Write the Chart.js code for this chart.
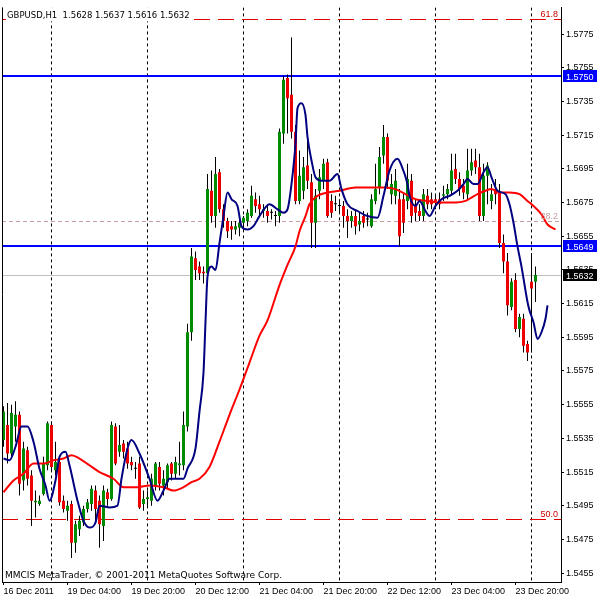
<!DOCTYPE html>
<html>
<head>
<meta charset="utf-8">
<title>GBPUSD,H1</title>
<script src="https://cdn.jsdelivr.net/npm/chart.js@4.4.1/dist/chart.umd.min.js"></script>
<style>
  html, body { margin: 0; padding: 0; background: #fff; }
  canvas { display: block; }
</style>
</head>
<body>
<canvas id="chart" width="600" height="600"></canvas>
<script>
// H1 candles, oldest first (bar 0 = 16 Dec 2011 12:00)
const opens = [
  1.5534,1.5543,1.5526,1.5542,1.5549,1.5510,1.5528,1.5513,1.5497,1.5496,
  1.5502,1.5519,1.5543,1.5516,1.5521,1.5498,1.5492,1.5496,1.5473,1.5481,
  1.5485,1.5493,1.5496,1.5504,1.5498,1.5483,1.5503,1.5499,1.5542,1.5527,
  1.5532,1.5529,1.5521,1.5517,1.5520,1.5496,1.5499,1.5498,1.5507,1.5518,
  1.5507,1.5509,1.5520,1.5514,1.5519,1.5519,1.5542,1.5598,1.5642,1.5637,
  1.5634,1.5633,1.5682,1.5667,1.5693,1.5671,1.5664,1.5661,1.5659,1.5660,
  1.5663,1.5664,1.5667,1.5677,1.5674,1.5670,1.5670,1.5669,1.5667,1.5667,
  1.5716,1.5749,1.5739,1.5717,1.5676,1.5682,1.5697,1.5687,1.5663,1.5682,
  1.5688,1.5699,1.5676,1.5674,1.5673,1.5673,1.5667,1.5664,1.5667,1.5662,
  1.5667,1.5665,1.5661,1.5676,1.5684,1.5703,1.5714,1.5680,1.5679,1.5677,
  1.5677,1.5676,1.5688,1.5673,1.5670,1.5667,1.5679,1.5677,1.5677,1.5677,
  1.5679,1.5680,1.5682,1.5695,1.5689,1.5685,1.5680,1.5694,1.5700,1.5696,
  1.5667,1.5691,1.5676,1.5683,1.5681,1.5651,1.5640,1.5613,1.5629,1.5600,
  1.5606,1.5591,1.5628,1.5628
];
const highs = [
  1.5554,1.5556,1.5555,1.5557,1.5551,1.5533,1.5530,1.5516,1.5504,1.5501,
  1.5524,1.5545,1.5545,1.5533,1.5524,1.5501,1.5498,1.5498,1.5486,1.5489,
  1.5495,1.5499,1.5507,1.5507,1.5501,1.5507,1.5505,1.5545,1.5544,1.5543,
  1.5534,1.5533,1.5524,1.5521,1.5524,1.5504,1.5504,1.5514,1.5521,1.5521,
  1.5516,1.5520,1.5521,1.5524,1.5533,1.5551,1.5603,1.5648,1.5646,1.5640,
  1.5637,1.5692,1.5694,1.5702,1.5695,1.5674,1.5666,1.5664,1.5664,1.5666,
  1.5667,1.5671,1.5685,1.5681,1.5679,1.5674,1.5674,1.5671,1.5670,1.5719,
  1.5750,1.5751,1.5773,1.5721,1.5706,1.5702,1.5714,1.5692,1.5683,1.5695,
  1.5701,1.5701,1.5680,1.5679,1.5677,1.5676,1.5671,1.5670,1.5670,1.5669,
  1.5670,1.5669,1.5680,1.5698,1.5708,1.5721,1.5716,1.5692,1.5695,1.5683,
  1.5681,1.5698,1.5692,1.5677,1.5674,1.5683,1.5683,1.5681,1.5680,1.5681,
  1.5685,1.5686,1.5704,1.5704,1.5693,1.5689,1.5707,1.5707,1.5707,1.5704,
  1.5698,1.5699,1.5686,1.5689,1.5686,1.5656,1.5645,1.5630,1.5633,1.5609,
  1.5609,1.5593,1.5645,1.5637
];
const lows = [
  1.5530,1.5520,1.5524,1.5533,1.5501,1.5504,1.5507,1.5483,1.5488,1.5495,
  1.5501,1.5516,1.5516,1.5513,1.5495,1.5491,1.5486,1.5464,1.5467,1.5477,
  1.5483,1.5491,1.5492,1.5486,1.5470,1.5474,1.5495,1.5498,1.5519,1.5524,
  1.5523,1.5517,1.5516,1.5511,1.5493,1.5492,1.5495,1.5495,1.5504,1.5504,
  1.5501,1.5505,1.5510,1.5511,1.5513,1.5516,1.5539,1.5593,1.5629,1.5629,
  1.5627,1.5630,1.5663,1.5660,1.5669,1.5660,1.5654,1.5653,1.5656,1.5655,
  1.5659,1.5661,1.5666,1.5669,1.5667,1.5666,1.5663,1.5665,1.5661,1.5663,
  1.5710,1.5716,1.5713,1.5674,1.5674,1.5677,1.5683,1.5648,1.5648,1.5677,
  1.5683,1.5666,1.5666,1.5670,1.5669,1.5660,1.5654,1.5660,1.5656,1.5658,
  1.5660,1.5661,1.5660,1.5674,1.5680,1.5698,1.5683,1.5674,1.5674,1.5649,
  1.5657,1.5671,1.5663,1.5664,1.5664,1.5664,1.5671,1.5671,1.5671,1.5671,
  1.5676,1.5677,1.5679,1.5686,1.5679,1.5677,1.5677,1.5691,1.5692,1.5664,
  1.5664,1.5674,1.5671,1.5674,1.5648,1.5633,1.5608,1.5611,1.5598,1.5595,
  1.5586,1.5581,1.5586,1.5616
];
const closes = [
  1.5551,1.5526,1.5550,1.5549,1.5508,1.5529,1.5511,1.5498,1.5498,1.5498,
  1.5520,1.5544,1.5518,1.5521,1.5497,1.5493,1.5495,1.5473,1.5484,1.5486,
  1.5493,1.5497,1.5505,1.5493,1.5484,1.5504,1.5499,1.5543,1.5520,1.5531,
  1.5527,1.5520,1.5519,1.5517,1.5494,1.5499,1.5500,1.5511,1.5520,1.5508,
  1.5511,1.5519,1.5514,1.5521,1.5520,1.5543,1.5598,1.5643,1.5635,1.5633,
  1.5633,1.5683,1.5667,1.5692,1.5671,1.5664,1.5658,1.5659,1.5661,1.5663,
  1.5666,1.5669,1.5679,1.5673,1.5671,1.5671,1.5667,1.5669,1.5667,1.5717,
  1.5748,1.5737,1.5717,1.5676,1.5691,1.5696,1.5688,1.5663,1.5679,1.5690,
  1.5698,1.5667,1.5669,1.5674,1.5673,1.5667,1.5664,1.5667,1.5661,1.5664,
  1.5663,1.5665,1.5677,1.5683,1.5702,1.5714,1.5688,1.5686,1.5688,1.5655,
  1.5663,1.5689,1.5667,1.5669,1.5667,1.5680,1.5674,1.5674,1.5676,1.5674,
  1.5680,1.5683,1.5694,1.5689,1.5683,1.5681,1.5694,1.5699,1.5696,1.5667,
  1.5691,1.5697,1.5680,1.5680,1.5651,1.5640,1.5614,1.5628,1.5600,1.5607,
  1.5590,1.5586,1.5624,1.5632
];

// moving averages as [bar, price]
const fastMa = [
  [0,1.5523],[1.5,1.5522],[3,1.5530],[4.5,1.5542],[6,1.5542],[7.5,1.5533],[9,1.5517],
  [10.5,1.5507],[11.5,1.5498],[13,1.5510],[14,1.5524],[15.5,1.5527],[16.5,1.5519],
  [18.5,1.5498],[20,1.5486],[21.5,1.5482],[23,1.5485],[24,1.5495],[26.5,1.5494],
  [28.5,1.5495],[29.5,1.5511],[31,1.5529],[32,1.5534],[34,1.5526],[36.5,1.5511],
  [38.5,1.5498],[40,1.5504],[41.5,1.5511],[45,1.5511],[46,1.5517],[48,1.5529],
  [49,1.5551],[50,1.5574],[50.5,1.5604],[51,1.5631],[52,1.5637],[53,1.5635],
  [54,1.5651],[55,1.5667],[56,1.5681],[57,1.5677],[58.5,1.5673],[59.5,1.5661],
  [61,1.5659],[62.5,1.5661],[64,1.5667],[66.5,1.5674],[68.5,1.5671],[70,1.5669],
  [71,1.5671],[72,1.5686],[73,1.5710],[73.5,1.5731],[74.5,1.5734],[75.5,1.5727],
  [76,1.5714],[77,1.5700],[78,1.5690],[79.5,1.5688],[81.5,1.5688],[83.5,1.5692],
  [84.5,1.5683],[86,1.5674],[88.5,1.5670],[91,1.5667],[93.5,1.5666],[95,1.5679],
  [96.5,1.5694],[98.5,1.5701],[99.5,1.5697],[101,1.5686],[101.5,1.5679],[103,1.5673],
  [104,1.5676],[105.5,1.5670],[106.5,1.5667],[108,1.5673],[109.5,1.5677],[111.5,1.5679],
  [113.5,1.5682],[115,1.5686],[116,1.5689],[117.5,1.5686],[118.5,1.5686],[120,1.5693],
  [121,1.5696],[122,1.5690],[123.5,1.5682],[125.5,1.5680],[126.5,1.5674],[127.5,1.5663],
  [128.5,1.5649],[129.5,1.5637],[131,1.5616],[131.5,1.5611],[132.5,1.5604],
  [133.5,1.5594],[134.5,1.5598],[135.5,1.5606],[136,1.5614]
];
const slowMa = [
  [0,1.5503],[2.5,1.5510],[5,1.5514],[7.5,1.5520],[10,1.5520],[12.5,1.5522],[15,1.5523],
  [17,1.5525],[19,1.5523],[21.5,1.5519],[24,1.5515],[27.5,1.5511],[30,1.5506],
  [33.5,1.5506],[36.5,1.5507],[40,1.5506],[42.5,1.5504],[45,1.5506],[47,1.5509],
  [49,1.5511],[51.5,1.5518],[54,1.5533],[56.5,1.5549],[59,1.5564],[61.5,1.5580],
  [64,1.5596],[66,1.5605],[69,1.5626],[71,1.5638],[73,1.5649],[74,1.5658],
  [75.5,1.5667],[76.5,1.5674],[78.5,1.5679],[81,1.5681],[84,1.5682],[88,1.5684],
  [91.5,1.5684],[95.5,1.5684],[98,1.5683],[100.5,1.5680],[103,1.5677],[106,1.5676],
  [109,1.5675],[113,1.5675],[115.5,1.5676],[117,1.5678],[118.5,1.5680],[120.5,1.5682],
  [122,1.5683],[124,1.5681],[126.5,1.5681],[129,1.5680],[131,1.5676],[132.5,1.5673],
  [134.5,1.5668],[136,1.5662],[138,1.5659]
];

const yTicks = [1.5455,1.5475,1.5495,1.5515,1.5535,1.5555,1.5575,1.5595,1.5615,
                1.5635,1.5655,1.5675,1.5695,1.5715,1.5735,1.5755,1.5775];
const xLabelBars = [0,16,32,48,64,80,96,112,128];
const xLabels = ['16 Dec 2011','19 Dec 04:00','19 Dec 20:00','20 Dec 12:00','21 Dec 04:00',
                 '21 Dec 20:00','22 Dec 12:00','23 Dec 04:00','23 Dec 20:00'];
const dayBars = [12,36,60,84,108,132];

const blueLevels = [1.5750, 1.5649];
const bidLevel = 1.5632;
const fibLevels = [1.5784, 1.5664, 1.5487];
const fibNames = ['61.8', '38.2', '50.0'];

const symbol = 'GBPUSD,H1';
const footer = 'MMCIS MetaTrader, \u00a9 2001-2011 MetaQuotes Software Corp.';

const FONT = '9px "Liberation Sans", Arial, sans-serif';
const bars = opens.map((_, i) => i);

function hline(ctx, a, py) {
  ctx.beginPath();
  ctx.moveTo(a.left, py);
  ctx.lineTo(a.right, py);
  ctx.stroke();
}

// grid separators, levels, labels and price tags
const chartDecor = {
  id: 'chartDecor',
  beforeDatasetsDraw(chart) {
    const { ctx, chartArea: a, scales: { x, y } } = chart;
    ctx.save();
    ctx.beginPath();
    ctx.rect(a.left, a.top, a.right - a.left, a.bottom - a.top);
    ctx.clip();
    ctx.lineWidth = 1;

    // day separators
    ctx.strokeStyle = '#000';
    ctx.setLineDash([3, 3]);
    dayBars.forEach(b => {
      const px = Math.floor(x.getPixelForValue(b)) + 0.5;
      ctx.beginPath();
      ctx.moveTo(px, a.top);
      ctx.lineTo(px, a.bottom);
      ctx.stroke();
    });

    // fibo levels
    fibLevels.forEach((v, k) => {
      const py = Math.round(y.getPixelForValue(v)) + 0.5;
      if (k === 1) {
        ctx.strokeStyle = '#c8a0a0';
        ctx.setLineDash([4, 3]);
      } else {
        ctx.strokeStyle = '#e00000';
        ctx.setLineDash([16, 8]);
      }
      hline(ctx, a, py);
    });

    // bid line
    ctx.setLineDash([]);
    ctx.strokeStyle = '#c0c0c0';
    hline(ctx, a, Math.round(y.getPixelForValue(bidLevel)) + 0.5);

    // horizontal levels
    ctx.strokeStyle = '#0000ff';
    ctx.lineWidth = 2;
    blueLevels.forEach(v => hline(ctx, a, Math.round(y.getPixelForValue(v))));
    ctx.restore();
  },
  afterDraw(chart) {
    const { ctx, chartArea: a, scales: { y } } = chart;
    ctx.save();
    ctx.strokeStyle = '#000';
    ctx.lineWidth = 1;
    ctx.beginPath();
    ctx.moveTo(a.left + 0.5, a.top);
    ctx.lineTo(a.left + 0.5, a.bottom);
    ctx.stroke();

    ctx.font = FONT;
    ctx.textBaseline = 'alphabetic';

    // fibo level names
    ctx.textAlign = 'right';
    fibLevels.forEach((v, k) => {
      ctx.fillStyle = k === 1 ? '#c8a0a0' : '#cc0000';
      ctx.fillText(fibNames[k], a.right - 3, Math.round(y.getPixelForValue(v)) - 2);
    });

    // symbol + last bar OHLC
    const last = closes.length - 1;
    const title = symbol + '  ' +
      [opens[last], highs[last], lows[last], closes[last]].map(v => v.toFixed(4)).join(' ');
    ctx.textAlign = 'left';
    ctx.font = '8.5px "DejaVu Sans", sans-serif';
    const w = ctx.measureText(title).width;
    ctx.fillStyle = '#fff';
    ctx.fillRect(a.left + 4, a.top, w + 3, 14);
    ctx.fillStyle = '#000';
    ctx.fillText(title, a.left + 5, a.top + 11);

    ctx.font = '9px "DejaVu Sans", sans-serif';
    ctx.fillText(footer, a.left + 3, a.bottom - 4);

    // price tags on the axis
    ctx.font = FONT;
    const tag = (v, bg) => {
      const py = Math.round(y.getPixelForValue(v));
      ctx.fillStyle = bg;
      ctx.fillRect(a.right + 2, py - 6, 34, 12);
      ctx.fillStyle = '#fff';
      ctx.fillText(v.toFixed(4), a.right + 5, py + 4);
    };
    blueLevels.forEach(v => tag(v, '#0000ff'));
    tag(bidLevel, '#000');
    ctx.restore();
  }
};

Chart.defaults.font.family = '"Liberation Sans", Arial, sans-serif';
Chart.defaults.font.size = 9;
Chart.defaults.color = '#000';

new Chart(document.getElementById('chart'), {
  type: 'bar',
  data: {
    datasets: [
      {
        label: 'wicks',
        data: bars.map(i => ({ x: i, y: [lows[i], highs[i]] })),
        backgroundColor: '#000',
        barThickness: 1,
        grouped: false,
        inflateAmount: 0,
        order: 5
      },
      {
        label: 'bodies',
        data: bars.map(i => ({ x: i, y: [opens[i], closes[i]] })),
        backgroundColor: bars.map(i => closes[i] > opens[i] ? '#008c00' : (closes[i] < opens[i] ? '#ee0000' : '#000')),
        borderWidth: 0,
        barThickness: 3,
        minBarLength: 1,
        grouped: false,
        inflateAmount: 0,
        order: 4
      },
      {
        type: 'line',
        label: 'slow MA',
        data: slowMa.map(p => ({ x: p[0], y: p[1] })),
        borderColor: '#ff0000',
        borderWidth: 2,
        pointRadius: 0,
        cubicInterpolationMode: 'monotone',
        order: 2
      },
      {
        type: 'line',
        label: 'fast MA',
        data: fastMa.map(p => ({ x: p[0], y: p[1] })),
        borderColor: '#000080',
        borderWidth: 2,
        pointRadius: 0,
        cubicInterpolationMode: 'monotone',
        order: 1
      }
    ]
  },
  options: {
    responsive: false,
    animation: false,
    devicePixelRatio: 1,
    layout: { padding: { left: 2, top: 2, right: 0, bottom: 0 } },
    plugins: { legend: { display: false }, tooltip: { enabled: false } },
    scales: {
      x: {
        type: 'linear',
        min: -0.375,
        max: 139.375,
        offset: false,
        afterFit(scale) { scale.height = 18; },
        afterBuildTicks(scale) { scale.ticks = xLabelBars.map(v => ({ value: v })); },
        ticks: {
          align: 'start',
          maxRotation: 0,
          autoSkip: false,
          padding: 1,
          callback: v => xLabels[xLabelBars.indexOf(v)]
        },
        grid: { drawOnChartArea: false, offset: false, tickLength: 3, color: '#000' },
        border: { color: '#000' }
      },
      y: {
        position: 'right',
        min: 1.54497,
        max: 1.57909,
        afterFit(scale) { scale.width = 39; },
        afterBuildTicks(scale) { scale.ticks = yTicks.map(v => ({ value: v })); },
        ticks: { autoSkip: false, padding: 2, callback: v => v.toFixed(4) },
        grid: { drawOnChartArea: false, tickLength: 3, color: '#000' },
        border: { color: '#000' }
      }
    }
  },
  plugins: [chartDecor]
});
</script>
</body>
</html>
